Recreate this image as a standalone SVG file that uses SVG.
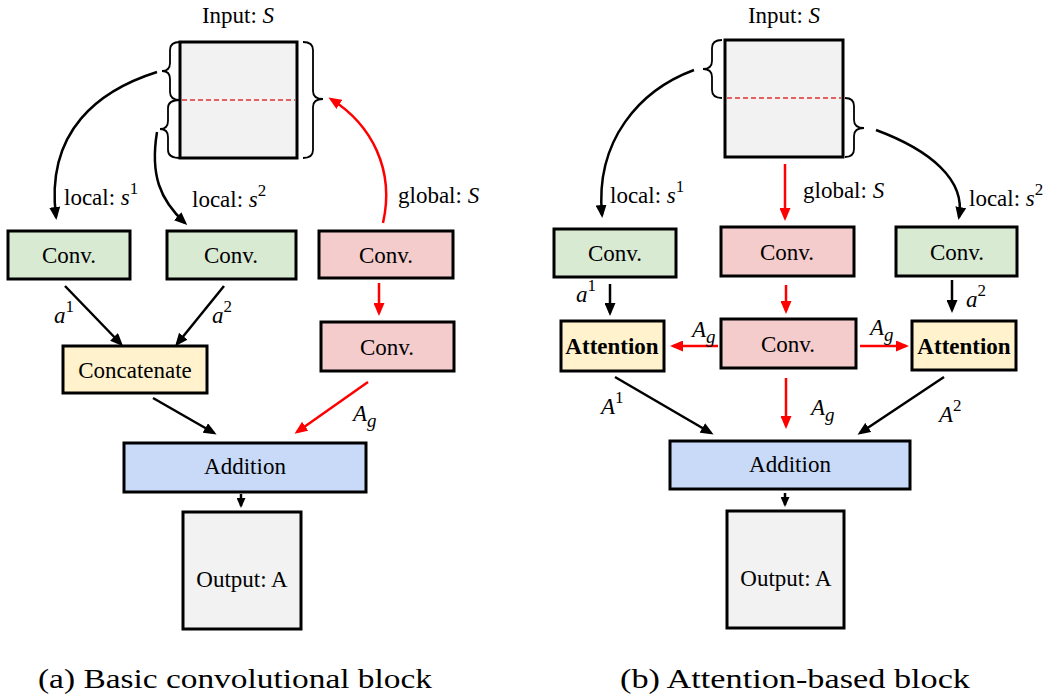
<svg xmlns="http://www.w3.org/2000/svg" width="1052" height="697" viewBox="0 0 1052 697">
<style>
text{font-family:"Liberation Serif","Times New Roman",serif;font-size:23px;fill:#000}
.m{font-style:italic}
.sup{font-size:17px}
.sub{font-size:19px}
.box{stroke:#000;stroke-width:3}
.green{fill:#d9ead3}.pink{fill:#f4cccc}.yellow{fill:#fff2cc}.blue{fill:#c9daf8}.gray{fill:#f2f2f2}
.k{stroke:#000;stroke-width:2.5;fill:none}
.r{stroke:#ff0000;stroke-width:2.5;fill:none}
.brace{stroke:#000;stroke-width:1.8;fill:none}
.dash{stroke:#e03030;stroke-width:1.5;stroke-dasharray:5 3}
.cap{font-size:27px}
.b{font-weight:bold}
</style>
<defs>
<marker id="ak" markerUnits="userSpaceOnUse" markerWidth="13" markerHeight="11" refX="10" refY="5.5" orient="auto"><path d="M0,0 L13,5.5 L0,11 z" fill="#000"/></marker>
<marker id="ar" markerUnits="userSpaceOnUse" markerWidth="13" markerHeight="11" refX="10" refY="5.5" orient="auto"><path d="M0,0 L13,5.5 L0,11 z" fill="#ff0000"/></marker>
<marker id="aks" markerUnits="userSpaceOnUse" markerWidth="10" markerHeight="9" refX="8" refY="4.5" orient="auto"><path d="M0,0 L10,4.5 L0,9 z" fill="#000"/></marker>
</defs>

<!-- ===== Panel (a) ===== -->
<g id="a-input">
<text x="238" y="23" text-anchor="middle">Input: <tspan class="m">S</tspan></text>
<rect class="box gray" x="180" y="42" width="117" height="116"/>
<line class="dash" x1="182" y1="100" x2="295" y2="100"/>
<path class="brace" d="M180,42 Q170,42 170,50 L170,63 Q170,71 162,71 Q170,71 170,79 L170,92 Q170,100 180,100"/>
<path class="brace" d="M180,100 Q168,100 168,108 L168,121 Q168,129 160,129 Q168,129 168,137 L168,150 Q168,158 180,158"/>
<path class="brace" d="M303,42 Q313,42 313,50 L313,91 Q313,99 323,99 Q313,99 313,107 L313,150 Q313,158 303,158"/>
</g>
<g id="a-conv1"><rect class="box green" x="8" y="231" width="122" height="48"/><text x="69" y="263" text-anchor="middle">Conv.</text></g>
<g id="a-conv2"><rect class="box green" x="167" y="231" width="129" height="48"/><text x="231" y="263" text-anchor="middle">Conv.</text></g>
<g id="a-conv3"><rect class="box pink" x="319" y="231" width="134" height="47"/><text x="386" y="263" text-anchor="middle">Conv.</text></g>
<g id="a-conv4"><rect class="box pink" x="321" y="322" width="133" height="49"/><text x="387" y="355" text-anchor="middle">Conv.</text></g>
<g id="a-concat"><rect class="box yellow" x="63" y="346" width="144" height="47"/><text x="135" y="378" text-anchor="middle">Concatenate</text></g>
<g id="a-add"><rect class="box blue" x="124" y="443" width="242" height="49"/><text x="245" y="474" text-anchor="middle">Addition</text></g>
<g id="a-out"><rect class="box gray" x="183" y="512" width="118" height="117"/><text x="242" y="587" text-anchor="middle">Output: A</text></g>

<g id="a-connectors">
<path class="k" d="M157,72 C100,90 45,130 56,217" marker-end="url(#ak)"/>
<path class="k" d="M157,132 C150,175 160,200 185,223" marker-end="url(#ak)"/>
<path class="r" d="M383,223 C395,170 372,125 331,99" marker-end="url(#ar)"/>
<line class="k" x1="65" y1="286" x2="121" y2="344" marker-end="url(#ak)"/>
<line class="k" x1="224" y1="286" x2="177" y2="344" marker-end="url(#ak)"/>
<line class="r" x1="379" y1="283" x2="379" y2="313" marker-end="url(#ar)"/>
<line class="k" x1="153" y1="398" x2="214" y2="433" marker-end="url(#ak)"/>
<line class="r" x1="368" y1="382" x2="297" y2="432" marker-end="url(#ar)"/>
<line class="k" x1="241" y1="494" x2="241" y2="506" marker-end="url(#aks)"/>
</g>
<g id="a-labels">
<text x="64" y="205">local: <tspan class="m">s</tspan><tspan class="sup" dy="-11">1</tspan></text>
<text x="192" y="207">local: <tspan class="m">s</tspan><tspan class="sup" dy="-11">2</tspan></text>
<text x="398" y="203">global: <tspan class="m">S</tspan></text>
<text x="54" y="323" class="m">a<tspan class="sup" dy="-11" font-style="normal">1</tspan></text>
<text x="212" y="323" class="m">a<tspan class="sup" dy="-11" font-style="normal">2</tspan></text>
<text x="353" y="421" class="m">A<tspan class="sub" dy="6">g</tspan></text>
</g>

<!-- ===== Panel (b) ===== -->
<g id="b-input">
<text x="784" y="23" text-anchor="middle">Input: <tspan class="m">S</tspan></text>
<rect class="box gray" x="725" y="40" width="118" height="117"/>
<line class="dash" x1="727" y1="98" x2="841" y2="98"/>
<path class="brace" d="M722,40 Q712,40 712,48 L712,61 Q712,69 703,69 Q712,69 712,77 L712,90 Q712,98 722,98"/>
<path class="brace" d="M845,98 Q854,98 854,106 L854,120 Q854,128 864,128 Q854,128 854,136 L854,149 Q854,157 845,157"/>
</g>
<g id="b-conv1"><rect class="box green" x="554" y="229" width="122" height="48"/><text x="615" y="261" text-anchor="middle">Conv.</text></g>
<g id="b-conv2"><rect class="box pink" x="721" y="227" width="133" height="49"/><text x="787" y="260" text-anchor="middle">Conv.</text></g>
<g id="b-conv3"><rect class="box green" x="896" y="227" width="121" height="49"/><text x="957" y="260" text-anchor="middle">Conv.</text></g>
<g id="b-conv4"><rect class="box pink" x="721" y="319" width="135" height="49"/><text x="788" y="352" text-anchor="middle">Conv.</text></g>
<g id="b-att1"><rect class="box yellow" x="561" y="321" width="103" height="50"/><text x="612" y="354" text-anchor="middle" class="b">Attention</text></g>
<g id="b-att2"><rect class="box yellow" x="912" y="321" width="104" height="49"/><text x="964" y="354" text-anchor="middle" class="b">Attention</text></g>
<g id="b-add"><rect class="box blue" x="670" y="441" width="240" height="48"/><text x="790" y="472" text-anchor="middle">Addition</text></g>
<g id="b-out"><rect class="box gray" x="727" y="511" width="117" height="117"/><text x="786" y="586" text-anchor="middle">Output: A</text></g>

<g id="b-connectors">
<path class="k" d="M694,70 C640,90 595,140 602,215" marker-end="url(#ak)"/>
<line class="r" x1="785" y1="164" x2="785" y2="218" marker-end="url(#ar)"/>
<path class="k" d="M876,130 C930,150 966,180 959,217" marker-end="url(#ak)"/>
<line class="k" x1="610" y1="284" x2="610" y2="313" marker-end="url(#ak)"/>
<line class="r" x1="786" y1="285" x2="786" y2="311" marker-end="url(#ar)"/>
<line class="k" x1="952" y1="280" x2="952" y2="310" marker-end="url(#ak)"/>
<line class="r" x1="718" y1="346" x2="673" y2="346" marker-end="url(#ar)"/>
<line class="r" x1="860" y1="346" x2="906" y2="346" marker-end="url(#ar)"/>
<line class="r" x1="786" y1="378" x2="786" y2="426" marker-end="url(#ar)"/>
<line class="k" x1="615" y1="377" x2="711" y2="433" marker-end="url(#ak)"/>
<line class="k" x1="944" y1="377" x2="860" y2="433" marker-end="url(#ak)"/>
<line class="k" x1="785" y1="493" x2="785" y2="505" marker-end="url(#aks)"/>
</g>
<g id="b-labels">
<text x="610" y="203">local: <tspan class="m">s</tspan><tspan class="sup" dy="-11">1</tspan></text>
<text x="803" y="198">global: <tspan class="m">S</tspan></text>
<text x="969" y="206">local: <tspan class="m">s</tspan><tspan class="sup" dy="-11">2</tspan></text>
<text x="576" y="302" class="m">a<tspan class="sup" dy="-11" font-style="normal">1</tspan></text>
<text x="966" y="307" class="m">a<tspan class="sup" dy="-11" font-style="normal">2</tspan></text>
<text x="692" y="337" class="m">A<tspan class="sub" dy="6">g</tspan></text>
<text x="870" y="335" class="m">A<tspan class="sub" dy="6">g</tspan></text>
<text x="811" y="415" class="m">A<tspan class="sub" dy="6">g</tspan></text>
<text x="601" y="414" class="m">A<tspan class="sup" dy="-11" font-style="normal">1</tspan></text>
<text x="939" y="422" class="m">A<tspan class="sup" dy="-11" font-style="normal">2</tspan></text>
</g>

<g id="captions">
<text class="cap" x="38" y="688" textLength="394" lengthAdjust="spacingAndGlyphs">(a) Basic convolutional block</text>
<text class="cap" x="620" y="688" textLength="350" lengthAdjust="spacingAndGlyphs">(b) Attention-based block</text>
</g>
</svg>
